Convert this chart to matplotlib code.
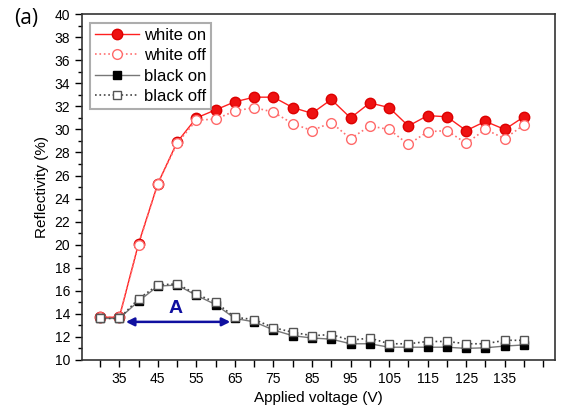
import matplotlib.pyplot as plt
from matplotlib.ticker import MultipleLocator, FixedLocator

plt.rcParams['font.family'] = ['Liberation Sans', 'DejaVu Sans']

# Applied voltage (V)
voltage = [30, 35, 40, 45, 50, 55, 60, 65, 70, 75, 80, 85, 90, 95, 100,
           105, 110, 115, 120, 125, 130, 135, 140]

# Reflectivity (%)
white_on = [13.7, 13.7, 20.1, 25.3, 28.9, 31.0, 31.7, 32.4, 32.8, 32.8, 31.9, 31.4,
            32.6, 31.0, 32.3, 31.9, 30.3, 31.2, 31.1, 29.9, 30.7, 30.0, 31.1]
white_off = [13.7, 13.7, 20.0, 25.3, 28.8, 30.8, 30.9, 31.6, 31.9, 31.5, 30.5, 29.9,
             30.6, 29.2, 30.3, 30.0, 28.7, 29.8, 29.9, 28.8, 30.0, 29.2, 30.4]
black_on = [13.6, 13.6, 15.1, 16.4, 16.5, 15.6, 14.8, 13.6, 13.3, 12.6, 12.1, 11.9,
            11.8, 11.4, 11.4, 11.1, 11.1, 11.1, 11.1, 11.0, 11.05, 11.2, 11.3]
black_off = [13.6, 13.6, 15.3, 16.5, 16.6, 15.7, 15.0, 13.7, 13.5, 12.8, 12.4, 12.1,
             12.2, 11.7, 11.9, 11.4, 11.4, 11.6, 11.6, 11.4, 11.4, 11.7, 11.7]

x_labels = [35, 45, 55, 65, 75, 85, 95, 105, 115, 125, 135]

fig = plt.figure(figsize=(5.65, 4.18), dpi=100)
ax = fig.add_axes([0.145, 0.139, 0.837, 0.827])

ax.plot(voltage, white_on, '-', color='#ff2020', lw=1.0, marker='o', ms=7.5,
        mfc='#ee1111', mec='#dd0000', label='white on')
ax.plot(voltage, white_off, ':', color='#ff7070', lw=1.2, marker='o', ms=7,
        mfc='white', mec='#ff6a6a', mew=1.0, label='white off')
ax.plot(voltage, black_on, '-', color='#777777', lw=1.0, marker='s', ms=6,
        mfc='black', mec='black', label='black on')
ax.plot(voltage, black_off, ':', color='#444444', lw=1.2, marker='s', ms=6,
        mfc='white', mec='#555555', mew=1.0, label='black off')

# double arrow and label "A"
ax.annotate('', xy=(36.7, 13.3), xytext=(63.8, 13.3),
            arrowprops=dict(arrowstyle='<|-|>', color='#1010a0', lw=1.8,
                            mutation_scale=12, shrinkA=0, shrinkB=0))
ax.text(49.7, 14.45, 'A', color='#1010a0', fontsize=14, fontweight='bold',
        ha='center', va='center')

ax.set_xlim(25.3, 148)
ax.set_ylim(10, 40)
ax.xaxis.set_major_locator(FixedLocator(x_labels))
ax.xaxis.set_minor_locator(MultipleLocator(5))
ax.yaxis.set_major_locator(MultipleLocator(2))
ax.yaxis.set_minor_locator(MultipleLocator(1))
ax.tick_params(which='both', direction='out', top=False, right=False,
               labelsize=10, width=1.0)
ax.tick_params(which='major', length=5)
ax.tick_params(which='minor', length=5)
ax.tick_params(axis='y', which='minor', length=3)

for s in ax.spines.values():
    s.set_linewidth(1.2)
    s.set_color('#333333')

ax.set_xlabel('Applied voltage (V)', fontsize=11)
ax.set_ylabel('Reflectivity (%)', fontsize=11)

leg = ax.legend(loc='upper left', fontsize=12, handlelength=2.6, borderpad=0.3,
                labelspacing=0.32, handletextpad=0.3, fancybox=False,
                borderaxespad=0.0, bbox_to_anchor=(0.018, 0.975))
leg.get_frame().set_edgecolor('#999999')
leg.get_frame().set_linewidth(1.5)

fig.text(0.025, 0.955, '(a)', fontsize=15, family=['Open Sans', 'DejaVu Sans'],
         ha='left', va='center')

fig.savefig('out.png', dpi=100)
